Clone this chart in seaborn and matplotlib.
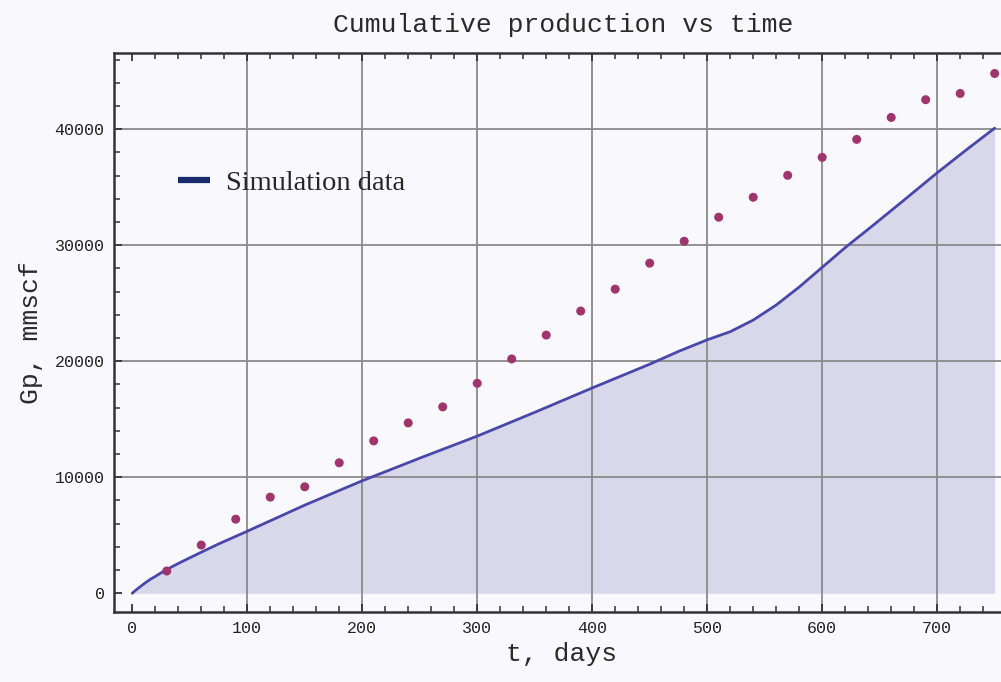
import numpy as np
import pandas as pd
import matplotlib
matplotlib.use("Agg")
import matplotlib.pyplot as plt
from matplotlib.lines import Line2D
from matplotlib.ticker import MultipleLocator
import seaborn as sns

# ---- data ----
sim_t = [0, 2, 5, 8, 12, 16, 20, 25, 30, 40, 50, 60, 75, 100, 150, 200, 250, 300,
         350, 400, 450, 475, 500, 520, 540, 560, 580, 600, 620, 644, 670, 700,
         725, 750]
sim_gp = [0, 180, 420, 650, 950, 1220, 1450, 1760, 2050, 2570, 3060, 3540, 4250,
          5350, 7600, 9700, 11650, 13550, 15600, 17700, 19750, 20850, 21850, 22550,
          23550, 24850, 26400, 28100, 29800, 31700, 33800, 36250, 38200, 40100]

obs_t = [30, 60, 90, 120, 150, 180, 210, 240, 270, 300, 330, 360, 390, 420, 450,
         480, 510, 540, 570, 600, 630, 660, 690, 720, 750]
obs_gp = [1920, 4160, 6390, 8290, 9180, 11250, 13140, 14690, 16070, 18100, 20200,
          22260, 24330, 26220, 28460, 30350, 32420, 34140, 36030, 37580, 39130,
          41020, 42550, 43090, 44810]

title = "Cumulative production vs time"
xlabel = "t, days"
ylabel = "Gp, mmscf"
legend_label = "Simulation data"

sim = pd.DataFrame({"t": sim_t, "Gp": sim_gp})
obs = pd.DataFrame({"t": obs_t, "Gp": obs_gp})

sns.set_theme(style="white")
bg = "#f9f9fd"
mono = ["Liberation Mono", "DejaVu Sans Mono"]
plt.rcParams["font.family"] = mono

fig = plt.figure(figsize=(10.01, 6.82), dpi=100, facecolor=bg)
ax = fig.add_axes([114.3 / 1001, 1 - 611.7 / 682, (1001 - 114.3) / 1001, (611.7 - 53.3) / 682])
ax.set_facecolor(bg)

ax.fill_between(sim["t"], sim["Gp"], 0, color="#d9d8eb", lw=0, zorder=1)
sns.lineplot(data=sim, x="t", y="Gp", ax=ax, color="#4848a8", lw=2.0, zorder=3,
             sort=False, estimator=None)
ax.lines[-1].set_solid_joinstyle("round")
sns.scatterplot(data=obs, x="t", y="Gp", ax=ax, color="#a0346c", s=42,
                edgecolor="none", zorder=4)

ax.set_xlim(-15.6, 755.5)
ax.set_ylim(-1586, 46550)

ax.xaxis.set_major_locator(MultipleLocator(100))
ax.xaxis.set_minor_locator(MultipleLocator(20))
ax.yaxis.set_major_locator(MultipleLocator(10000))
ax.yaxis.set_minor_locator(MultipleLocator(2000))

ax.set_axisbelow(False)
ax.grid(True, which="major", color="#8a8a8a", lw=1.3)
fig.canvas.draw()
for tk in ax.xaxis.get_major_ticks():
    if abs(tk.get_loc()) < 1e-6:
        tk.gridline.set_visible(False)
for tk in ax.yaxis.get_major_ticks():
    if abs(tk.get_loc()) < 1e-6:
        tk.gridline.set_visible(False)

for s in ["left", "bottom", "top"]:
    ax.spines[s].set_visible(True)
    ax.spines[s].set_color("#333333")
    ax.spines[s].set_linewidth(1.8)
ax.spines["right"].set_visible(False)

ax.tick_params(axis="both", which="major", direction="in", length=6, width=1.3,
               color="#333333", labelsize=12, labelcolor="#222222", pad=7)
ax.tick_params(axis="both", which="minor", direction="in", length=4, width=1.1,
               color="#333333")
ax.tick_params(axis="x", which="both", top=True, bottom=True, labeltop=False)
ax.tick_params(axis="y", which="both", left=True, right=False)

ax.set_xlabel(xlabel, fontsize=19, color="#2a2a2a", labelpad=4)
ax.xaxis.set_label_coords((562 - 114.3) / (1001 - 114.3), -0.055, transform=None)
ax.xaxis.label.set_transform(ax.transAxes)
ax.set_ylabel(ylabel, fontsize=19, color="#2a2a2a", labelpad=8)
fig.text(563 / 1001, 1 - 25 / 682, title, ha="center", va="center",
         fontsize=19, color="#2a2a2a", family=mono)

handle = Line2D([], [], color="#172a6b", lw=4.5, solid_capstyle="butt")
leg = ax.legend([handle], [legend_label], loc="center left",
                bbox_to_anchor=(152 / 1001, 1 - 183 / 682), bbox_transform=fig.transFigure,
                frameon=False, handlelength=1.15, handletextpad=0.55,
                prop={"family": ["Liberation Serif", "DejaVu Serif"], "size": 20.5})

fig.savefig("out.png", dpi=100, facecolor=bg)
